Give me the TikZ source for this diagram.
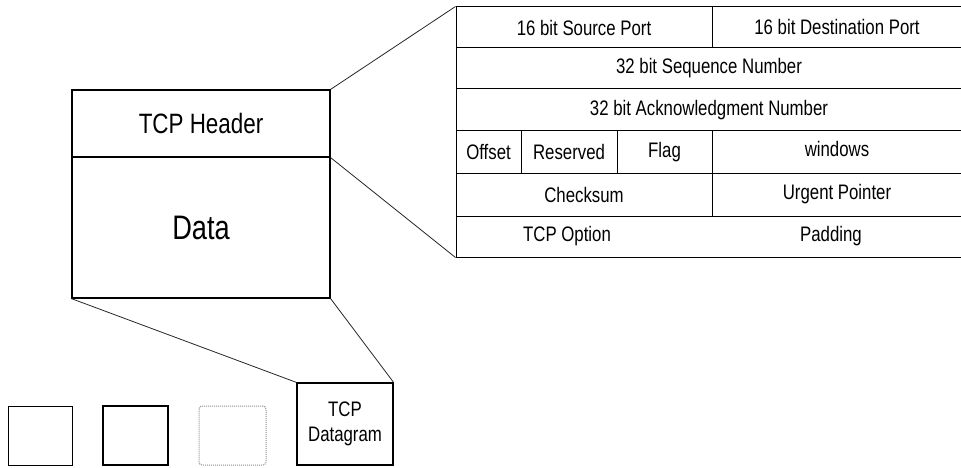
\documentclass[tikz,border=0pt]{standalone}
\usepackage{fontspec}
\setmainfont{Liberation Sans}[FakeStretch=0.8]
\usepackage{tikz}
\usetikzlibrary{positioning}

\begin{document}
\begin{tikzpicture}[x=1pt,y=-1pt]
  \tikzset{cell/.style = {shape=rectangle,draw,line width=1pt,inner sep=0pt,font=\fontsize{21}{24}\selectfont}}
  \tikzset{lbl/.style = {inner sep=0pt,font=\fontsize{21}{24}\selectfont}}
  \tikzset{pkt/.style = {shape=rectangle,draw,line width=1.2pt,inner sep=0pt,minimum width=258pt}}
  \tikzset{seg/.style = {shape=rectangle,draw,line width=1pt,inner sep=0pt,minimum height=59pt}}
  \tikzset{zoomline/.style = {line width=0.8pt,draw=black!85}}

  \useasboundingbox (0,0) rectangle (961,468);

	% packet
	\node[pkt,minimum height=67pt,font=\fontsize{28}{32}\selectfont] (hdr) at (201,123.5) {TCP Header};
	\node[pkt,minimum height=141pt,font=\fontsize{34}{38}\selectfont] (data) at (201,227.5) {Data};

	% header fields
	\node[cell,minimum width=256pt,minimum height=41pt] (sport) at (584,27.5) {16 bit Source Port};
	\node[cell,minimum width=250pt,minimum height=41pt] (dport) at (837,27.5) {\raisebox{2pt}{16 bit Destination Port}};
	\node[cell,minimum width=506pt,minimum height=41pt] (seq) at (709,68.5) {32 bit Sequence Number};
	\node[cell,minimum width=506pt,minimum height=42pt] (ack) at (709,110) {32 bit Acknowledgment Number};
	\node[cell,minimum width=65pt,minimum height=42pt] (off) at (488.5,152) {Offset};
	\node[cell,minimum width=96pt,minimum height=42pt] (res) at (569,152) {Reserved};
	\node[cell,minimum width=95pt,minimum height=42pt] (flag) at (664.5,152) {Flag};
	\node[cell,minimum width=250pt,minimum height=42pt] (win) at (837,152) {\raisebox{7pt}{windows}};
	\node[cell,minimum width=256pt,minimum height=43pt] (csum) at (584,194.5) {Checksum};
	\node[cell,minimum width=250pt,minimum height=43pt] (urg) at (837,194.5) {Urgent Pointer};
	\node[cell,minimum width=506pt,minimum height=41pt] (orow) at (709,236.5) {};
	\node[lbl] (opt) at (567,236.5) {TCP Option};
	\node[lbl] (pad) at (831,236.5) {Padding};

	% stream of datagrams
	\node[seg,minimum width=64pt] (s1) at (40,435.5) {};
	\node[seg,minimum width=65pt,line width=1.3pt] (s2) at (135.5,435.5) {};
	\node[seg,minimum width=67pt,draw=black!45,densely dotted,rounded corners=3pt] (s3) at (232.5,435.5) {};
	\node[seg,minimum width=96pt,minimum height=82pt,line width=1.2pt,align=center,font=\fontsize{21}{25}\selectfont] (dgram) at (345,424) {TCP\\Datagram};

    \foreach \from/\to in {hdr.north east/sport.north west, hdr.south east/orow.south west, data.south west/dgram.north west, data.south east/dgram.north east}
    \draw[zoomline] (\from) -- (\to);

\end{tikzpicture}
\end{document}
